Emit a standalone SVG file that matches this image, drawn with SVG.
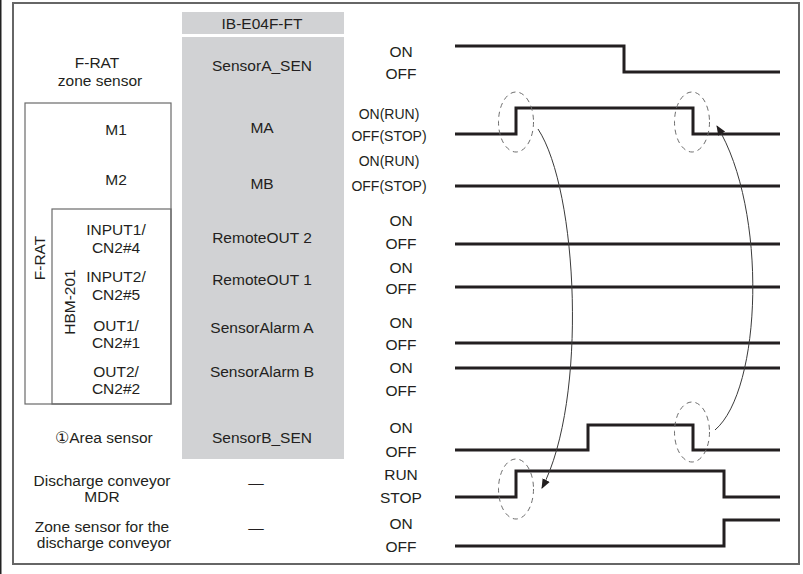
<svg xmlns="http://www.w3.org/2000/svg" width="803" height="574" viewBox="0 0 803 574">
<style>
text{font-family:"Liberation Sans",Arial,sans-serif;font-size:15.5px;fill:#231f20;text-anchor:middle}
.st{font-size:14px}
.sig{fill:none;stroke:#231f20;stroke-width:3}
.box{fill:none;stroke:#6a6a6a;stroke-width:1.2}
.ell{fill:none;stroke:#6d6d6d;stroke-width:1;stroke-dasharray:5 4}
.arr{fill:none;stroke:#3a3a3a;stroke-width:1}
.grey{fill:#d1d2d4}
</style>
<defs>
<marker id="ah" viewBox="0 0 10 10" refX="9" refY="5" markerWidth="10" markerHeight="10" markerUnits="userSpaceOnUse" orient="auto">
<path d="M0,1 L10,5 L0,9 z" fill="#231f20"/>
</marker>
</defs>
<rect width="803" height="574" fill="#fff"/>
<line x1="0.75" y1="0" x2="0.75" y2="574" stroke="#222" stroke-width="1.5"/>
<rect x="13" y="3" width="786" height="561" fill="none" stroke="#666" stroke-width="2"/>

<g id="column">
<rect class="grey" x="182" y="12" width="162" height="22"/>
<rect class="grey" x="182" y="37" width="162" height="422"/>
<text x="262" y="29">IB-E04F-FT</text>
</g>

<g id="frames">
<rect class="box" x="25" y="103" width="146" height="301"/>
<rect class="box" x="52" y="209" width="119" height="195"/>
<text transform="translate(45,258) rotate(-90)">F-RAT</text>
<text transform="translate(75,302) rotate(-90)">HBM-201</text>
</g>

<g id="row-sensorA">
<text x="97" y="68">F-RAT</text>
<text x="100" y="86">zone sensor</text>
<text x="262" y="71">SensorA_SEN</text>
<text x="401" y="57">ON</text>
<text x="401" y="79">OFF</text>
<polyline class="sig" points="455,46 624,46 624,72 780,72"/>
</g>

<g id="row-MA">
<text x="116" y="135">M1</text>
<text x="262" y="133">MA</text>
<text class="st" x="389" y="119">ON(RUN)</text>
<text class="st" x="389" y="141">OFF(STOP)</text>
<polyline class="sig" points="455,134 516,134 516,108 693,108 693,134 780,134"/>
</g>

<g id="row-MB">
<text x="116" y="185">M2</text>
<text x="262" y="189">MB</text>
<text class="st" x="389" y="166">ON(RUN)</text>
<text class="st" x="389" y="191">OFF(STOP)</text>
<polyline class="sig" points="455,186 780,186"/>
</g>

<g id="row-remote2">
<text x="116" y="235">INPUT1/</text>
<text x="116" y="253">CN2#4</text>
<text x="262" y="243">RemoteOUT 2</text>
<text x="401" y="226">ON</text>
<text x="401" y="249">OFF</text>
<polyline class="sig" points="455,244 780,244"/>
</g>

<g id="row-remote1">
<text x="116" y="282">INPUT2/</text>
<text x="116" y="300">CN2#5</text>
<text x="262" y="285">RemoteOUT 1</text>
<text x="401" y="273">ON</text>
<text x="401" y="294">OFF</text>
<polyline class="sig" points="455,287 780,287"/>
</g>

<g id="row-alarmA">
<text x="116" y="331">OUT1/</text>
<text x="116" y="348">CN2#1</text>
<text x="262" y="333">SensorAlarm A</text>
<text x="401" y="328">ON</text>
<text x="401" y="350">OFF</text>
<polyline class="sig" points="455,343 780,343"/>
</g>

<g id="row-alarmB">
<text x="116" y="377">OUT2/</text>
<text x="116" y="394">CN2#2</text>
<text x="262" y="377">SensorAlarm B</text>
<text x="401" y="373">ON</text>
<text x="401" y="396">OFF</text>
<polyline class="sig" points="455,368 780,368"/>
</g>

<g id="row-sensorB">
<text x="104" y="443">①Area sensor</text>
<text x="262" y="443">SensorB_SEN</text>
<text x="401" y="433">ON</text>
<text x="401" y="457">OFF</text>
<polyline class="sig" points="455,450 588,450 588,425 693,425 693,450 780,450"/>
</g>

<g id="row-MDR">
<text x="102" y="486">Discharge conveyor</text>
<text x="102" y="502">MDR</text>
<text x="256" y="488">—</text>
<text x="401" y="480">RUN</text>
<text x="401" y="503">STOP</text>
<polyline class="sig" points="455,497 516,497 516,471 724,471 724,497 780,497"/>
</g>

<g id="row-zone">
<text x="102" y="532">Zone sensor for the</text>
<text x="104" y="548">discharge conveyor</text>
<text x="256" y="533">—</text>
<text x="401" y="529">ON</text>
<text x="401" y="552">OFF</text>
<polyline class="sig" points="455,546 724,546 724,520 780,520"/>
</g>

<g id="connectors">
<ellipse class="ell" cx="516" cy="122" rx="17.5" ry="30"/>
<ellipse class="ell" cx="692" cy="122" rx="17.5" ry="30"/>
<ellipse class="ell" cx="692" cy="432" rx="17.5" ry="30"/>
<ellipse class="ell" cx="516" cy="489" rx="17.5" ry="30"/>
<path class="arr" d="M538,129 C578,190 588,400 542,488" marker-end="url(#ah)"/>
<path class="arr" d="M715,430 C762,390 768,210 717,126" marker-end="url(#ah)"/>
</g>
</svg>
